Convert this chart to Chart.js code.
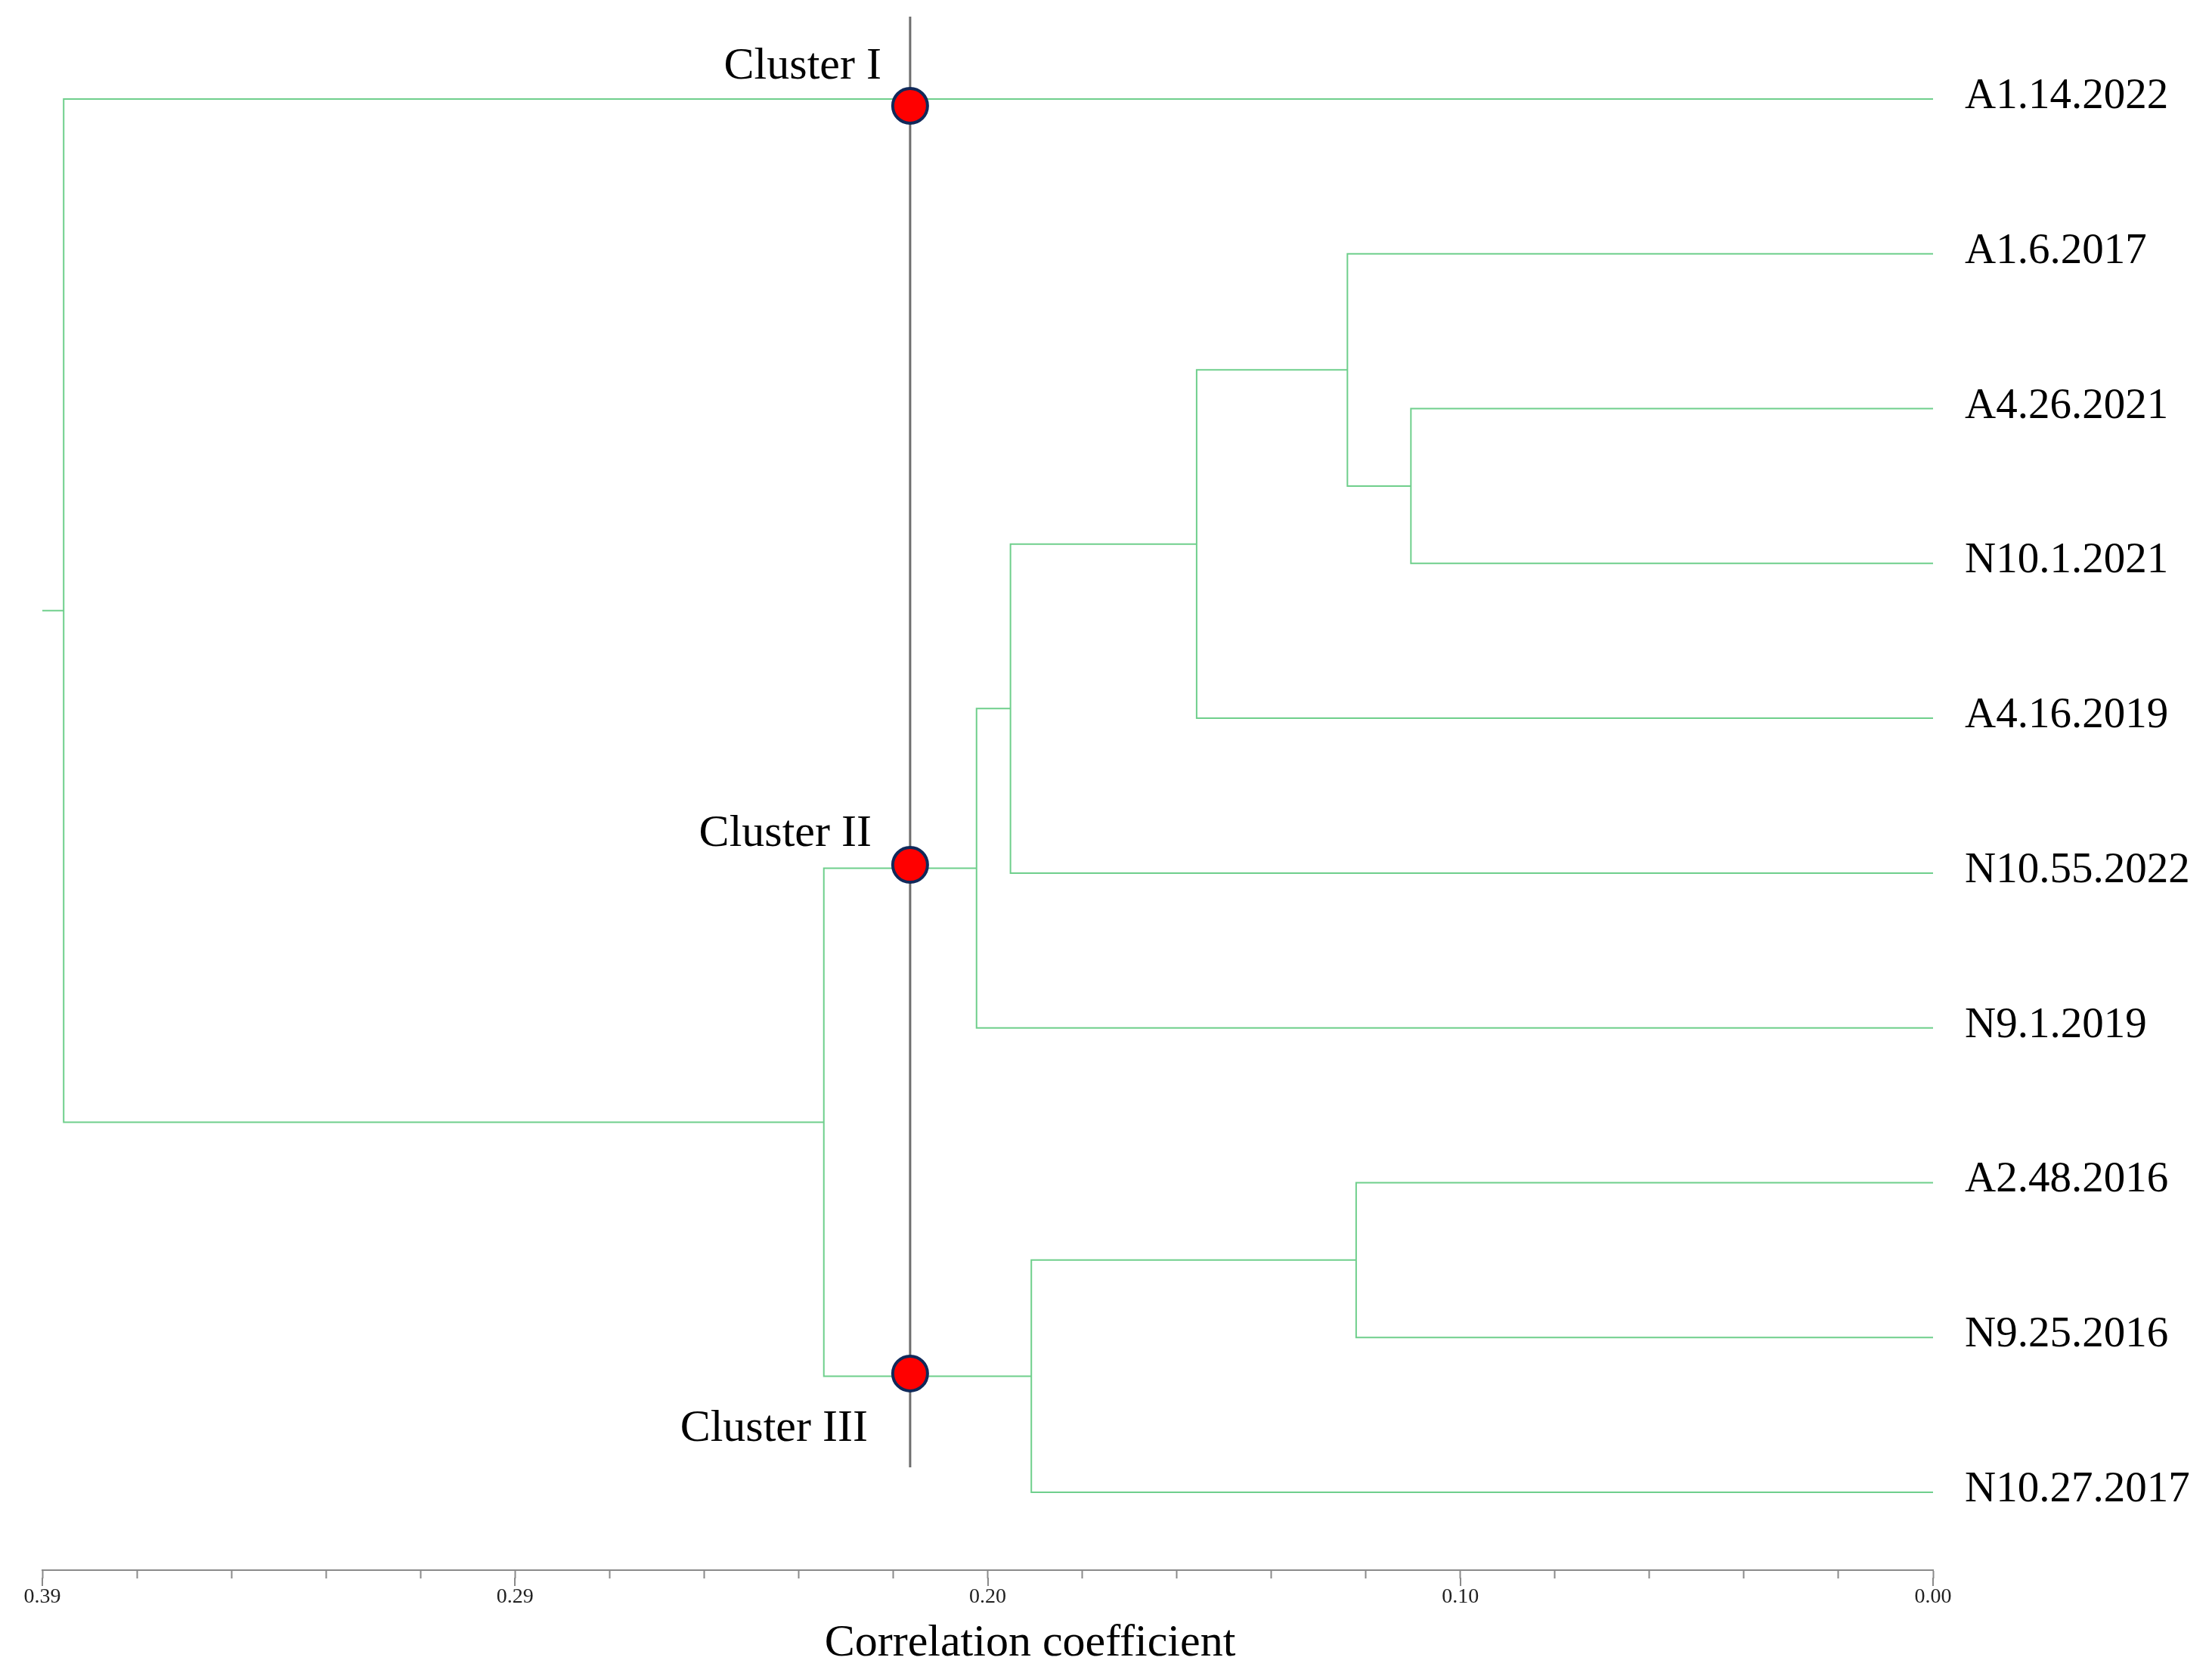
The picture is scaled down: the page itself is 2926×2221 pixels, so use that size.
<!DOCTYPE html>
<html>
<head>
<meta charset="utf-8">
<title>Dendrogram - correlation coefficient</title>
<script src="https://cdn.jsdelivr.net/npm/chart.js@4.4.1/dist/chart.umd.min.js"></script>
<style>
  html, body { margin: 0; padding: 0; background: #ffffff; }
</style>
</head>
<body>
<canvas id="myChart" width="2926" height="2221"></canvas>
<script>
// Leaves, top to bottom
var leafLabels = ['A1.14.2022', 'A1.6.2017', 'A4.26.2021', 'N10.1.2021', 'A4.16.2019',
  'N10.55.2022', 'N9.1.2019', 'A2.48.2016', 'N9.25.2016', 'N10.27.2017'];

// Merges: ids 0-9 are leaves, merge k makes node 10+k
var mergeLeft   = [2, 7, 1, 12, 11, 13, 15, 16, 0];
var mergeRight  = [3, 8, 10, 4, 9, 5, 6, 14, 17];
var mergeHeight = [0.1077, 0.1190, 0.1208, 0.1519, 0.1860, 0.1903, 0.1973, 0.2288, 0.3856];

// Axis
var axisMax = 0.39;
var tickValues = [0.39, 0.2925, 0.195, 0.0975, 0];
var tickLabels = ['0.39', '0.29', '0.20', '0.10', '0.00'];
var xTitle = 'Correlation coefficient';

// Cut line and cluster markers
var cutValue = 0.211;
var cutSpan = [-0.532, 8.839];
var clusterNames = ['Cluster I', 'Cluster II', 'Cluster III'];
var clusterMarkY = [0.044, 4.947, 8.233];

var green = '#6fcf8c';
var axisGray = '#8a8a8a';

// node positions (y = leaf index, x = height)
var nodeY = leafLabels.map(function(_, i) { return i; });
var nodeH = leafLabels.map(function() { return 0; });
mergeHeight.forEach(function(h, k) {
  nodeY.push((nodeY[mergeLeft[k]] + nodeY[mergeRight[k]]) / 2);
  nodeH.push(h);
});
var rootId = nodeY.length - 1;

var datasets = [];

// markers on top
datasets.push({
  label: 'clusters',
  data: clusterMarkY.map(function(y) { return {x: cutValue, y: y}; }),
  showLine: false,
  pointRadius: 23,
  pointStyle: 'circle',
  backgroundColor: '#ff0000',
  borderColor: '#10295a',
  borderWidth: 4,
  clip: false
});

// cut line
datasets.push({
  label: 'cut',
  data: [{x: cutValue, y: cutSpan[0]}, {x: cutValue, y: cutSpan[1]}],
  showLine: true,
  pointRadius: 0,
  borderColor: '#6e6e6e',
  borderWidth: 3,
  clip: false
});

// dendrogram elbows
mergeHeight.forEach(function(h, k) {
  var a = mergeLeft[k], b = mergeRight[k];
  datasets.push({
    label: 'merge' + k,
    data: [
      {x: nodeH[a], y: nodeY[a]},
      {x: h, y: nodeY[a]},
      {x: h, y: nodeY[b]},
      {x: nodeH[b], y: nodeY[b]}
    ],
    showLine: true,
    pointRadius: 0,
    borderColor: green,
    borderWidth: 2,
    borderJoinStyle: 'miter',
    tension: 0,
    clip: false
  });
});

// root stub
datasets.push({
  label: 'root',
  data: [{x: nodeH[rootId], y: nodeY[rootId]}, {x: axisMax, y: nodeY[rootId]}],
  showLine: true,
  pointRadius: 0,
  borderColor: green,
  borderWidth: 2,
  clip: false
});

// extra drawing: long major ticks, cluster names, axis title
var overlayPlugin = {
  id: 'overlay',
  afterDraw: function(chart) {
    var ctx = chart.ctx;
    var xs = chart.scales.x, ys = chart.scales.y;
    var area = chart.chartArea;
    ctx.save();
    ctx.strokeStyle = axisGray;
    ctx.lineWidth = 2;
    tickValues.forEach(function(v) {
      var px = Math.round(xs.getPixelForValue(v));
      ctx.beginPath();
      ctx.moveTo(px, area.bottom + 10);
      ctx.lineTo(px, area.bottom + 21);
      ctx.stroke();
    });

    var cutPx = xs.getPixelForValue(cutValue);
    var dx = [-38, -51, -56];
    var dy = [-52, -41, 73];
    ctx.fillStyle = '#000000';
    ctx.font = '60px "Liberation Serif"';
    ctx.textAlign = 'right';
    ctx.textBaseline = 'middle';
    clusterNames.forEach(function(name, i) {
      ctx.fillText(name, cutPx + dx[i], ys.getPixelForValue(clusterMarkY[i]) + dy[i]);
    });

    ctx.textAlign = 'center';
    ctx.fillText(xTitle, (area.left + area.right) / 2 + 56, area.bottom + 97);
    ctx.restore();
  }
};

Chart.defaults.font.family = '"Liberation Serif", "Times New Roman", serif';

var ctx = document.getElementById('myChart').getContext('2d');
var myChart = new Chart(ctx, {
  type: 'scatter',
  data: { datasets: datasets },
  options: {
    responsive: false,
    animation: false,
    devicePixelRatio: 1,
    layout: { padding: { top: 90, left: 56, right: 0, bottom: 0 } },
    plugins: { legend: { display: false }, tooltip: { enabled: false } },
    scales: {
      x: {
        type: 'linear',
        position: 'bottom',
        reverse: true,
        min: 0,
        max: axisMax,
        bounds: 'data',
        afterBuildTicks: function(scale) {
          var t = [];
          for (var i = 0; i <= 20; i++) t.push({value: axisMax * i / 20});
          scale.ticks = t;
        },
        afterFit: function(scale) { scale.height = 144; },
        grid: {
          display: true,
          drawOnChartArea: false,
          drawTicks: true,
          tickLength: 11,
          tickColor: axisGray,
          tickWidth: 2
        },
        border: { display: true, color: axisGray, width: 2 },
        ticks: {
          autoSkip: false,
          maxRotation: 0,
          padding: 8,
          color: '#222222',
          font: { size: 28 },
          callback: function(value, index) {
            return index % 5 === 0 ? tickLabels[4 - index / 5] : '';
          }
        }
      },
      y: {
        type: 'linear',
        position: 'right',
        reverse: true,
        min: -0.2002,
        max: 9.503,
        bounds: 'data',
        afterBuildTicks: function(scale) {
          scale.ticks = leafLabels.map(function(_, i) { return {value: i}; });
        },
        afterFit: function(scale) { scale.width = 369; },
        grid: { display: false, drawTicks: false },
        border: { display: false },
        ticks: {
          autoSkip: false,
          padding: 42,
          labelOffset: -3,
          color: '#000000',
          font: { size: 57 },
          callback: function(value) { return leafLabels[value]; }
        }
      }
    }
  },
  plugins: [overlayPlugin]
});
</script>
</body>
</html>
